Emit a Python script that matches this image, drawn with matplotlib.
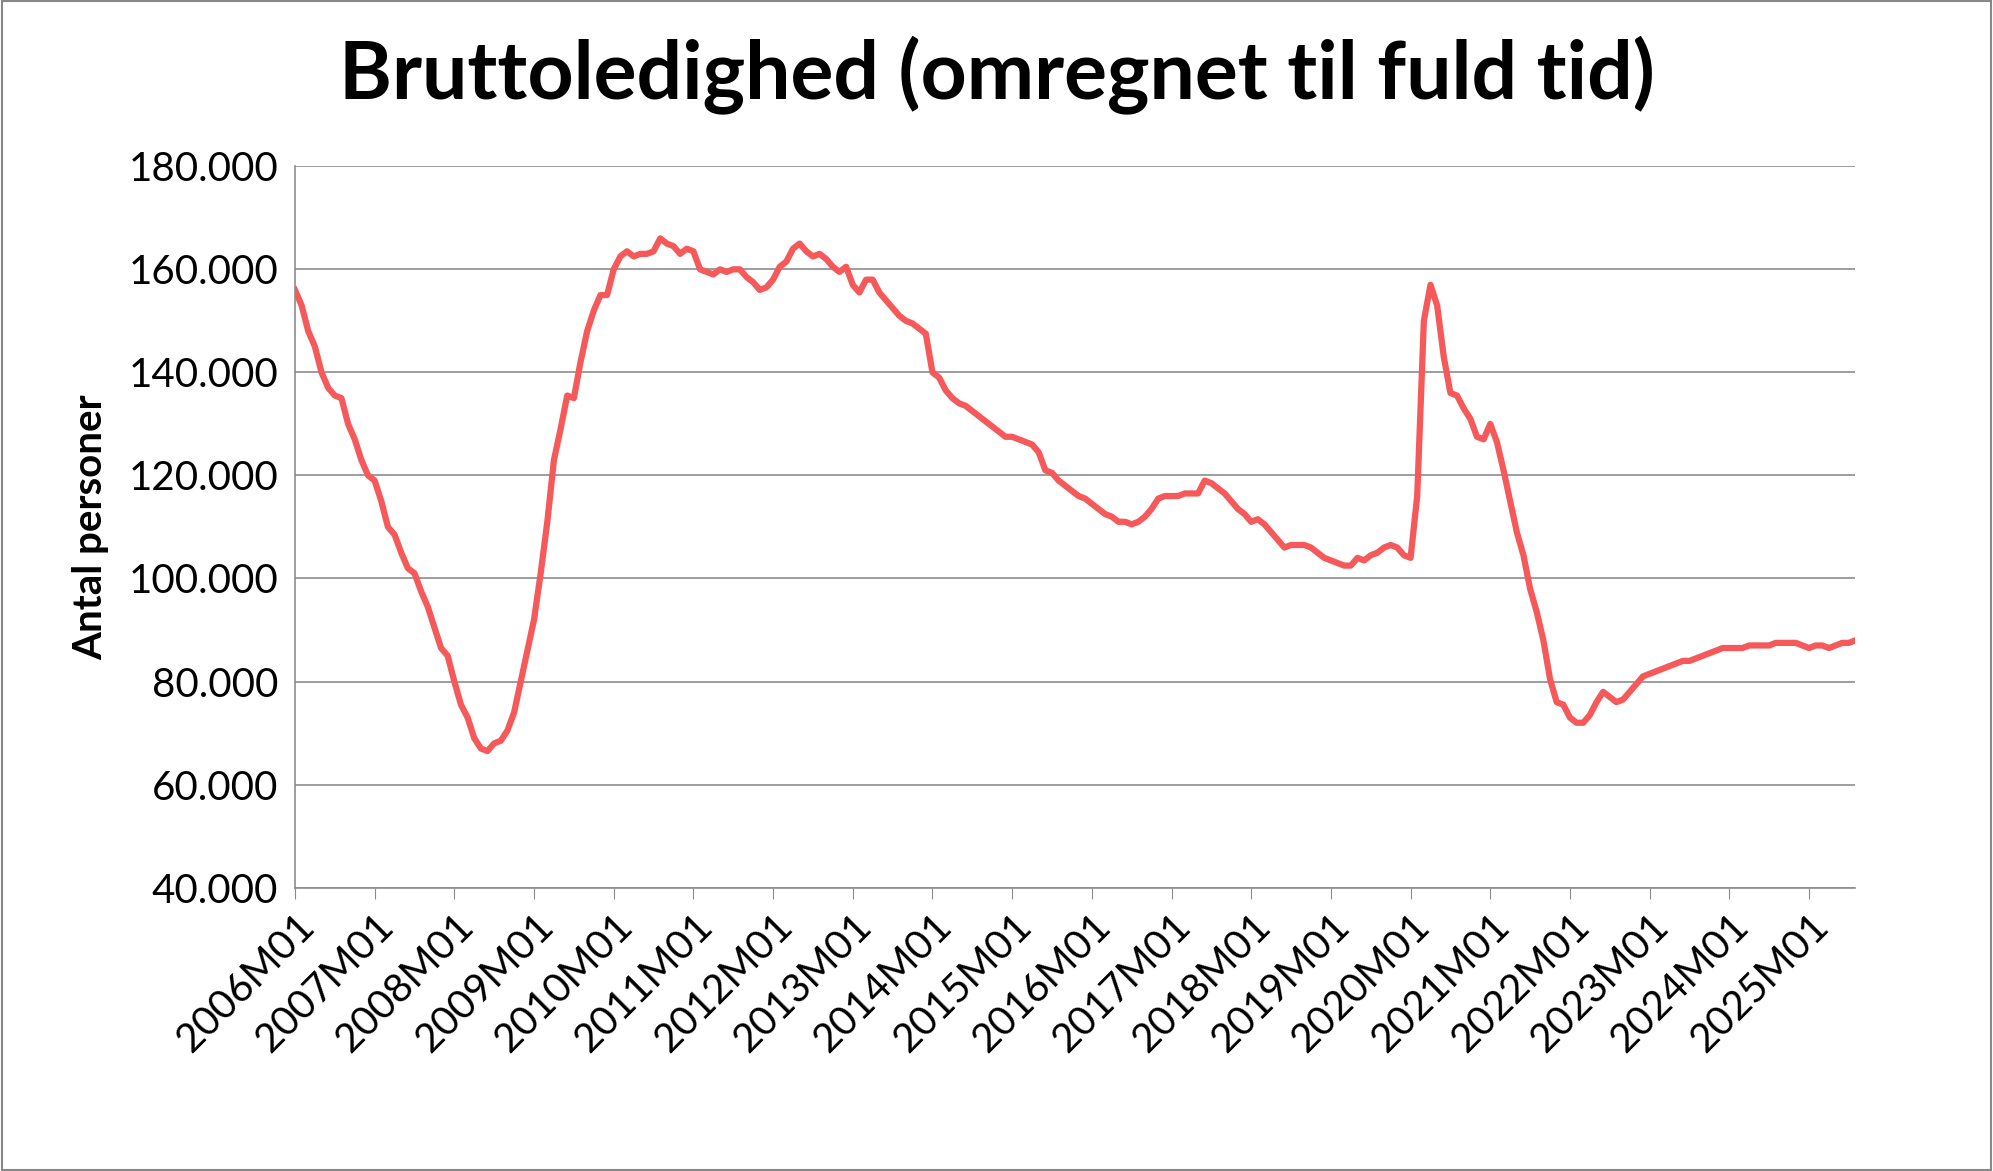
import matplotlib
matplotlib.use("Agg")
import matplotlib.pyplot as plt
from matplotlib.patches import Rectangle

plt.rcParams['font.family'] = ['Lato', 'DejaVu Sans']

years = list(range(2006, 2026))
v2006 = [156,153,148,145,140,137,135.5,135,130,127,123,120]
v2007 = [119,115,110,108.5,105,102,101,97.5,94.5,90.5,86.5,85]
v2008 = [80,75.5,73,69,67,66.5,68,68.5,70.5,74,80,86]
v2009 = [92,101,111,123,129,135.5,135,142,148,152,155,155]
v2010 = [160,162.5,163.5,162.5,163,163,163.5,166,165,164.5,163,164]
v2011 = [163.5,160,159.5,159,160,159.5,160,160,158.5,157.5,156,156.5]
v2012 = [158,160.5,161.5,164,165,163.5,162.5,163,162,160.5,159.5,160.5]
v2013 = [157,155.5,158,158,155.5,154,152.5,151,150,149.5,148.5,147.5]
v2014 = [140,139,136.5,135,134,133.5,132.5,131.5,130.5,129.5,128.5,127.5]
v2015 = [127.5,127,126.5,126,124.5,121,120.5,119,118,117,116,115.5]
v2016 = [114.5,113.5,112.5,112,111,111,110.5,111,112,113.5,115.5,116]
v2017 = [116,116,116.5,116.5,116.5,119,118.5,117.5,116.5,115,113.5,112.5]
v2018 = [111,111.5,110.5,109,107.5,106,106.5,106.5,106.5,106,105,104]
v2019 = [103.5,103,102.5,102.5,104,103.5,104.5,105,106,106.5,106,104.5]
v2020 = [104,116,150,157,153,143,136,135.5,133,131,127.5,127]
v2021 = [130,126.5,121,115,109,104.5,98,93.5,88,80.5,76,75.5]
v2022 = [73,72,72,73.5,76,78,77,76,76.5,78,79.5,81]
v2023 = [81.5,82,82.5,83,83.5,84,84,84.5,85,85.5,86,86.5]
v2024 = [86.5,86.5,86.5,87,87,87,87,87.5,87.5,87.5,87.5,87]
v2025 = [86.5,87,87,86.5,87,87.5,87.5,88]

series = [v2006,v2007,v2008,v2009,v2010,v2011,v2012,v2013,v2014,v2015,v2016,
          v2017,v2018,v2019,v2020,v2021,v2022,v2023,v2024,v2025]
values = [v * 1000 for s in series for v in s]
x = list(range(len(values)))

fig = plt.figure(figsize=(19.93, 11.71), dpi=100)
fig.patches.append(Rectangle((0.001, 0.001), 0.998, 0.998, transform=fig.transFigure,
                             fill=False, edgecolor='#888888', linewidth=1.5))
ax = fig.add_axes([0.148, 0.242, 0.783, 0.616])
ax.plot(x, values, color='#F5595A', linewidth=4.5)
ax.set_xlim(0, len(values) - 1)
ax.set_ylim(40000, 180000)
ax.set_yticks(range(40000, 180001, 20000))
ax.set_yticklabels([f"{v:,}".replace(",", ".") for v in range(40000, 180001, 20000)], fontsize=29)
ax.set_xticks([12 * i for i in range(len(years))])
ax.set_xticklabels([f"{y}M01" for y in years], rotation=45, ha='right',
                   rotation_mode='anchor', fontsize=29)
ax.grid(axis='y', color='#8c8c8c', linewidth=1.2)
ax.set_axisbelow(True)
for s in ['top', 'right']:
    ax.spines[s].set_visible(False)
for s in ['left', 'bottom']:
    ax.spines[s].set_color('#8c8c8c')
    ax.spines[s].set_linewidth(1.2)
ax.tick_params(axis='y', length=0, pad=12)
ax.tick_params(axis='x', length=8, color='#8c8c8c', pad=6)
ax.set_ylabel('Antal personer', fontsize=29, fontweight='bold', labelpad=14)
fig.suptitle('Bruttoledighed (omregnet til fuld tid)', fontsize=58, fontweight='bold', y=0.97)
fig.savefig('out.png', dpi=100)
